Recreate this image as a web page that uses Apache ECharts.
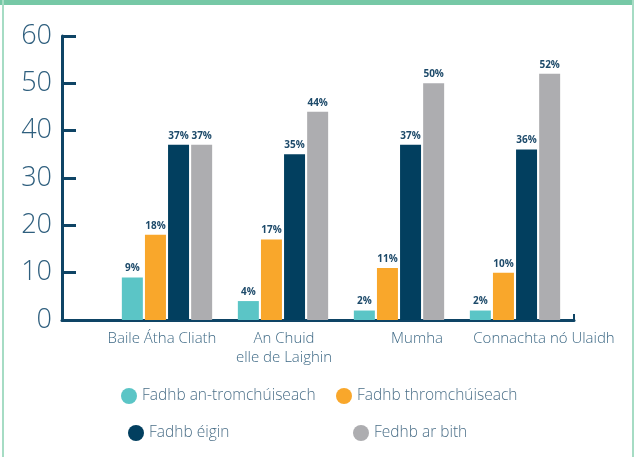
<!DOCTYPE html>
<html>
<head>
<meta charset="utf-8">
<script src="https://cdn.jsdelivr.net/npm/echarts@6/dist/echarts.min.js"></script>
<style>
  html, body { margin: 0; padding: 0; background: #fff; }
  #wrap { position: relative; width: 634px; height: 457px; overflow: hidden; }
  #chart { position: absolute; left: 0; top: 0; width: 634px; height: 457px; }
  .bt { position: absolute; left: 0; top: 0; width: 634px; height: 5px; background: #76c8a6; }
  .bl { position: absolute; left: 2px; top: 0; width: 2px; height: 457px; background: #a6dcc4; }
  .br { position: absolute; left: 632px; top: 0; width: 2px; height: 457px; background: #a6dcc4; }
</style>
</head>
<body>
<div id="wrap">
  <div id="chart"></div>
  <div class="bt"></div><div class="bl"></div><div class="br"></div>
</div>
<script>
var categories = ['Baile Átha Cliath', 'An Chuid\nelle de Laighin', 'Mumha', 'Connachta nó Ulaidh'];
// horizontal nudges of the category labels (px, + = right)
var labelShift = [-5, 1, 18, 29];
var seriesNames = ['Fadhb an-tromchúiseach', 'Fadhb thromchúiseach', 'Fadhb éigin', 'Fedhb ar bith'];
var minorProblem = [9, 4, 2, 2];
var seriousProblem = [18, 17, 11, 10];
var someProblem = [37, 35, 37, 36];
var noProblem = [37, 44, 50, 52];
var colors = ['#5bc5c6', '#f9a72b', '#023f5f', '#adadb0'];

var navy = '#0e4465';
var textCol = '#3f6a86';
var font = '"Open Sans", sans-serif';

var chart = echarts.init(document.getElementById('chart'));

function bar(name, data, color) {
  return {
    name: name,
    type: 'bar',
    xAxisIndex: 1,
    yAxisIndex: 1,
    data: data,
    barWidth: 21,
    barGap: '10%',
    itemStyle: { color: color },
    label: {
      show: true,
      position: 'top',
      distance: 4,
      formatter: '{c}%',
      color: '#1d4a6a',
      fontFamily: font,
      fontWeight: 'bold',
      fontSize: 10
    }
  };
}

function legendAt(name, left, top) {
  return {
    data: [name],
    left: left,
    top: top,
    padding: 0,
    icon: 'circle',
    itemWidth: 16,
    itemHeight: 16,
    itemGap: 5,
    selectedMode: false,
    textStyle: { color: '#4b6f88', fontFamily: font, fontSize: 15.5, fontWeight: 300 }
  };
}

chart.setOption({
  animation: false,
  color: colors,
  legend: [
    legendAt(seriesNames[0], 121, 388),
    legendAt(seriesNames[1], 336, 388),
    legendAt(seriesNames[2], 128, 425),
    legendAt(seriesNames[3], 353, 425)
  ],
  grid: [
    { left: 62, right: 60, top: 36, bottom: 137 },
    { left: 109, right: 61, top: 36, bottom: 137 }
  ],
  xAxis: [
    {
      type: 'category',
      gridIndex: 0,
      data: [''],
      axisLine: { lineStyle: { color: navy, width: 3 } },
      axisTick: { show: true, inside: true, length: 6, lineStyle: { color: navy, width: 2 } },
      axisLabel: { show: false }
    },
    {
      type: 'category',
      gridIndex: 1,
      data: categories.map(function (c, i) {
        var s = labelShift[i];
        return {
          value: c,
          textStyle: { padding: s >= 0 ? [0, 0, 0, 2 * s] : [0, -2 * s, 0, 0] }
        };
      }),
      axisLine: { show: false },
      axisTick: { show: false },
      axisLabel: {
        interval: 0,
        margin: 9,
        color: textCol,
        fontFamily: font,
        fontSize: 15,
        fontWeight: 300,
        lineHeight: 19
      }
    }
  ],
  yAxis: [
    {
      type: 'value',
      gridIndex: 0,
      min: 0,
      max: 60,
      interval: 10,
      splitLine: { show: false },
      axisLine: { show: true, lineStyle: { color: navy, width: 3 } },
      axisTick: { show: true, inside: true, length: 14, lineStyle: { color: navy, width: 3 } },
      axisLabel: {
        margin: 10,
        color: '#2f5f7e',
        fontFamily: font,
        fontSize: 27,
        fontWeight: 300
      }
    },
    {
      type: 'value',
      gridIndex: 1,
      min: 0,
      max: 60,
      interval: 10,
      show: false
    }
  ],
  series: [
    bar(seriesNames[0], minorProblem, colors[0]),
    bar(seriesNames[1], seriousProblem, colors[1]),
    bar(seriesNames[2], someProblem, colors[2]),
    bar(seriesNames[3], noProblem, colors[3])
  ]
});
</script>
</body>
</html>
